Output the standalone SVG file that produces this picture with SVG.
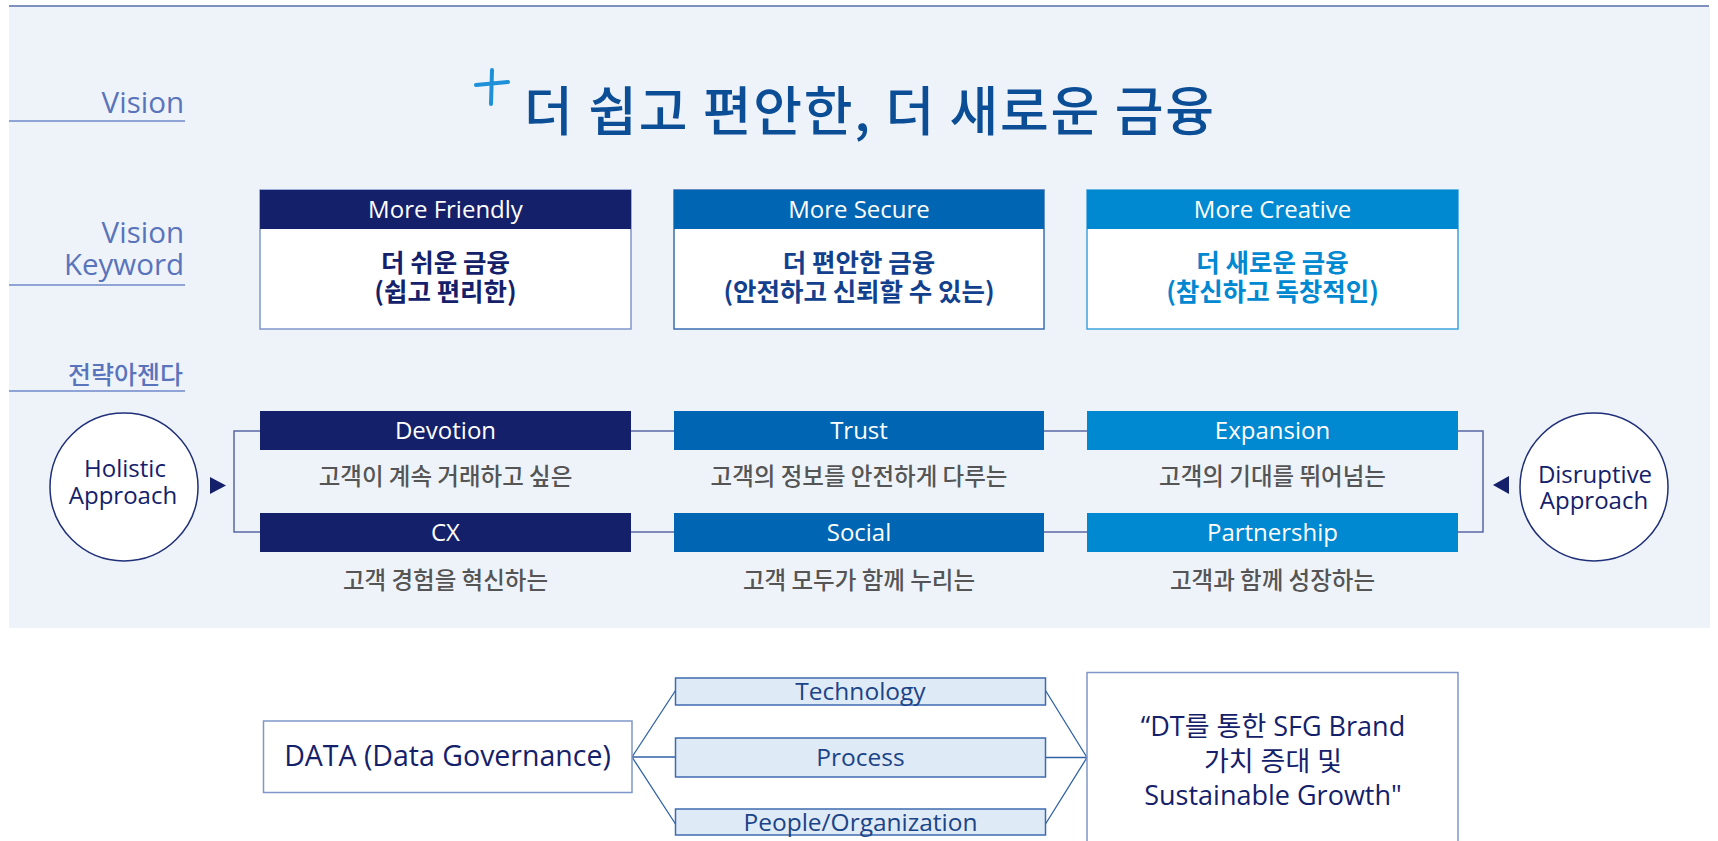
<svg xmlns="http://www.w3.org/2000/svg" width="1718" height="841" viewBox="0 0 1718 841">
<style>
.lbl{font-family:"Open Sans","Noto Sans CJK KR",sans-serif;fill:#5A74BC;font-size:29.5px;text-anchor:end}
.lblk{font-family:"Noto Sans CJK KR",sans-serif;fill:#5A74BC;font-size:25px;font-weight:500;text-anchor:end}
.rule{stroke:#8FA3D6;stroke-width:2}
.hd{font-family:"Open Sans","Noto Sans CJK KR",sans-serif;fill:#fff;font-size:24px;text-anchor:middle}
.kw{font-family:"Noto Sans CJK KR",sans-serif;font-size:25.5px;font-weight:700;text-anchor:middle}
.desc{font-family:"Noto Sans CJK KR",sans-serif;font-size:23.5px;font-weight:500;fill:#555;text-anchor:middle}
.circ{fill:#fff;stroke:#1F2F78;stroke-width:1.5}
.ct{font-family:"Open Sans","Noto Sans CJK KR",sans-serif;fill:#14216A;font-size:24px;text-anchor:middle}
.conn{fill:none;stroke:#5767A4;stroke-width:1.5}
.conn2{fill:none;stroke:#2F62A6;stroke-width:1.3}
.mid{fill:#DFEAF7;stroke:#3F6BAE;stroke-width:1.5}
.midt{font-family:"Open Sans","Noto Sans CJK KR",sans-serif;fill:#1B4488;font-size:24.5px;text-anchor:middle}
.bt{font-family:"Open Sans","Noto Sans CJK KR",sans-serif;fill:#14216A;font-size:27px;text-anchor:middle}
</style>
<rect x="0" y="0" width="1718" height="841" fill="#fff"/>
<rect x="9" y="7" width="1701" height="621" fill="#EEF3FA"/>
<line x1="9" y1="6" x2="1709" y2="6" stroke="#8090BE" stroke-width="2"/>

<g id="labels">
<text class="lbl" x="184" y="113">Vision</text>
<line class="rule" x1="9" y1="121" x2="185" y2="121"/>
<text class="lbl" x="184" y="243">Vision</text>
<text class="lbl" x="184" y="275">Keyword</text>
<line class="rule" x1="9" y1="285" x2="185" y2="285"/>
<text class="lblk" x="183" y="384">전략아젠다</text>
<line class="rule" x1="9" y1="391" x2="185" y2="391"/>
</g>

<g id="title">
<path d="M476 85 L508 82 M492 70 L491 104" stroke="#1E90D8" stroke-width="4" stroke-linecap="round" fill="none"/>
<text x="524" y="131" font-family="'Noto Sans CJK KR',sans-serif" font-size="53" font-weight="500" fill="#0B4E96" textLength="690" lengthAdjust="spacing">더 쉽고 편안한, 더 새로운 금융</text>
</g>

<g id="kw1">
<rect x="260" y="190" width="371" height="139" fill="#fff" stroke="#8096CC" stroke-width="1.5"/>
<rect x="260" y="190" width="371" height="39" fill="#14216A"/>
<text class="hd" x="445.5" y="218">More Friendly</text>
<text class="kw" x="445.5" y="272" fill="#14216A">더 쉬운 금융</text>
<text class="kw" x="445.5" y="301" fill="#14216A">(쉽고 편리한)</text>
</g>
<g id="kw2">
<rect x="674" y="190" width="370" height="139" fill="#fff" stroke="#3B6DB0" stroke-width="1.5"/>
<rect x="674" y="190" width="370" height="39" fill="#0066B3"/>
<text class="hd" x="859" y="218">More Secure</text>
<text class="kw" x="859" y="272" fill="#12408C">더 편안한 금융</text>
<text class="kw" x="859" y="301" fill="#12408C">(안전하고 신뢰할 수 있는)</text>
</g>
<g id="kw3">
<rect x="1087" y="190" width="371" height="139" fill="#fff" stroke="#3FA2DD" stroke-width="1.5"/>
<rect x="1087" y="190" width="371" height="39" fill="#0088D1"/>
<text class="hd" x="1272.5" y="218">More Creative</text>
<text class="kw" x="1272.5" y="272" fill="#0088D1">더 새로운 금융</text>
<text class="kw" x="1272.5" y="301" fill="#0088D1">(참신하고 독창적인)</text>
</g>

<g id="connectors">
<path class="conn" d="M260 431 H234 V532 H260"/>
<line class="conn" x1="631" y1="431" x2="674" y2="431"/>
<line class="conn" x1="631" y1="532" x2="674" y2="532"/>
<line class="conn" x1="1044" y1="431" x2="1087" y2="431"/>
<line class="conn" x1="1044" y1="532" x2="1087" y2="532"/>
<path class="conn" d="M1458 431 H1483 V532 H1458"/>
<polygon points="210,477 210,494 226,485.5" fill="#14216A"/>
<polygon points="1509,476 1509,494 1493,485" fill="#14216A"/>
<path class="conn2" d="M632 757 L675.5 690.5 M632 757 H675.5 M632 757 L675.5 824"/>
<path class="conn2" d="M1045.5 690.5 L1087 757.5 M1045.5 757.5 H1087 M1045.5 824 L1087 757.5"/>
</g>

<g id="holistic">
<circle class="circ" cx="124" cy="487" r="74"/>
<text class="ct" x="125" y="477">Holistic</text>
<text class="ct" x="123" y="504">Approach</text>
</g>
<g id="disruptive">
<circle class="circ" cx="1594" cy="487" r="74"/>
<text class="ct" x="1595" y="483">Disruptive</text>
<text class="ct" x="1594" y="509">Approach</text>
</g>

<g id="devotion">
<rect x="260" y="411" width="371" height="39" fill="#14216A"/>
<text class="hd" x="445.5" y="439">Devotion</text>
<text class="desc" x="445.5" y="485">고객이 계속 거래하고 싶은</text>
</g>
<g id="trust">
<rect x="674" y="411" width="370" height="39" fill="#0066B3"/>
<text class="hd" x="859" y="439">Trust</text>
<text class="desc" x="859" y="485">고객의 정보를 안전하게 다루는</text>
</g>
<g id="expansion">
<rect x="1087" y="411" width="371" height="39" fill="#0088D1"/>
<text class="hd" x="1272.5" y="439">Expansion</text>
<text class="desc" x="1272.5" y="485">고객의 기대를 뛰어넘는</text>
</g>
<g id="cx">
<rect x="260" y="513" width="371" height="39" fill="#14216A"/>
<text class="hd" x="445.5" y="541">CX</text>
<text class="desc" x="445.5" y="589">고객 경험을 혁신하는</text>
</g>
<g id="social">
<rect x="674" y="513" width="370" height="39" fill="#0066B3"/>
<text class="hd" x="859" y="541">Social</text>
<text class="desc" x="859" y="589">고객 모두가 함께 누리는</text>
</g>
<g id="partnership">
<rect x="1087" y="513" width="371" height="39" fill="#0088D1"/>
<text class="hd" x="1272.5" y="541">Partnership</text>
<text class="desc" x="1272.5" y="589">고객과 함께 성장하는</text>
</g>

<g id="data">
<rect x="263.5" y="721" width="368.5" height="71.5" fill="#fff" stroke="#7F96C8" stroke-width="1.5"/>
<text font-family="'Open Sans','Noto Sans CJK KR',sans-serif" fill="#14216A" font-size="28.5" text-anchor="middle" x="447.5" y="766">DATA (Data Governance)</text>
</g>
<g id="technology">
<rect class="mid" x="675.5" y="678" width="370" height="27"/>
<text class="midt" x="860.5" y="700">Technology</text>
</g>
<g id="process">
<rect class="mid" x="675.5" y="738" width="370" height="39"/>
<text class="midt" x="860.5" y="766">Process</text>
</g>
<g id="people">
<rect class="mid" x="675.5" y="809" width="370" height="26"/>
<text class="midt" x="860.5" y="831">People/Organization</text>
</g>
<g id="goal">
<rect x="1087" y="672.5" width="371" height="190" fill="#fff" stroke="#7F96C8" stroke-width="1.5"/>
<text class="bt" x="1273" y="736">“DT를 통한 SFG Brand</text>
<text class="bt" x="1273" y="771">가치 증대 및</text>
<text class="bt" x="1273" y="805">Sustainable Growth"</text>
</g>
</svg>
